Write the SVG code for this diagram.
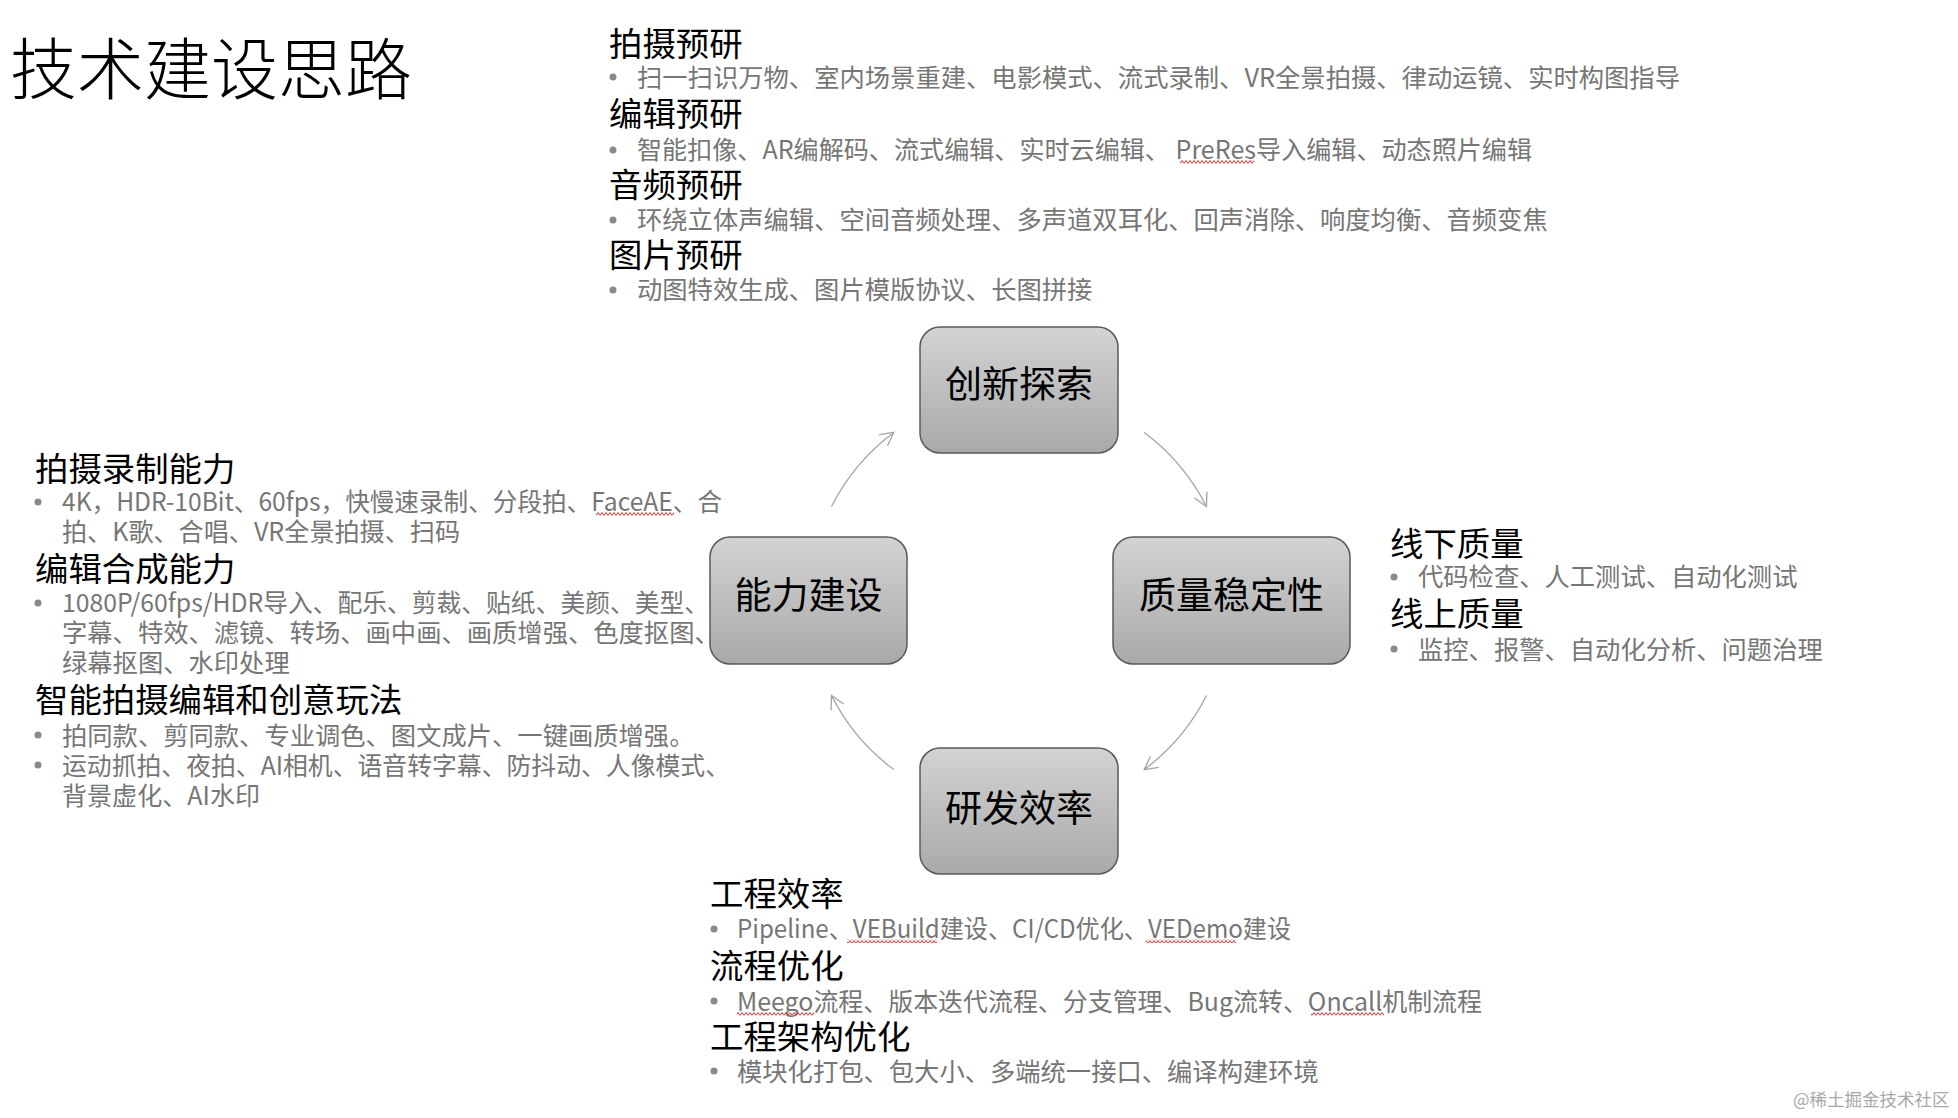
<svg xmlns="http://www.w3.org/2000/svg" width="1958" height="1118" viewBox="0 0 1958 1118">
<style>
text { font-family: "Noto Sans CJK SC", "Noto Sans", sans-serif; }
.title { font-size: 67px; font-weight: 300; fill: #000; }
.h { font-size: 33.4px; fill: #000; }
.b { font-size: 25.3px; fill: #767676; }
.dot { fill: #8a8a8a; }
.node rect { fill: url(#nodeGrad); stroke: #595959; stroke-width: 1.5; }
.node text { font-size: 37px; text-anchor: middle; fill: #000; }
.conn path { fill: none; stroke: #a3a3a3; stroke-width: 1.3; marker-end: url(#arr); }
.wave { fill: url(#wavePat); }
.wm { font-size: 17.5px; fill: #a8a8a8; }
</style>
<defs>
<linearGradient id="nodeGrad" x1="0" y1="0" x2="0" y2="1">
<stop offset="0" stop-color="#d3d3d3"/>
<stop offset="1" stop-color="#a9a9a9"/>
</linearGradient>
<marker id="arr" markerUnits="userSpaceOnUse" markerWidth="18" markerHeight="18" refX="15" refY="9" orient="auto">
<path d="M2,2 L15,9 L2,16" fill="none" stroke="#a3a3a3" stroke-width="1.3"/>
</marker>
<pattern id="wavePat" patternUnits="userSpaceOnUse" width="4" height="4">
<path d="M0,3.5 L2,0.5 L4,3.5" fill="none" stroke="#e03030" stroke-width="1"/>
</pattern>
</defs>
<rect width="1958" height="1118" fill="#fff"/>

<text class="title" x="10" y="94">技术建设思路</text>

<g id="top-block">
<text class="h" x="609" y="56">拍摄预研</text>
<circle class="dot" cx="613" cy="77" r="3.5"/>
<text class="b" x="637" y="87" textLength="1043" lengthAdjust="spacingAndGlyphs">扫一扫识万物、室内场景重建、电影模式、流式录制、VR全景拍摄、律动运镜、实时构图指导</text>
<text class="h" x="609" y="126">编辑预研</text>
<circle class="dot" cx="613" cy="150" r="3.5"/>
<text class="b" x="637" y="159" textLength="895" lengthAdjust="spacingAndGlyphs">智能扣像、AR编解码、流式编辑、实时云编辑、 PreRes导入编辑、动态照片编辑</text>
<rect class="wave" x="1180" y="160" width="74" height="4"/>
<text class="h" x="609" y="197">音频预研</text>
<circle class="dot" cx="613" cy="220" r="3.5"/>
<text class="b" x="637" y="229">环绕立体声编辑、空间音频处理、多声道双耳化、回声消除、响度均衡、音频变焦</text>
<text class="h" x="609" y="267">图片预研</text>
<circle class="dot" cx="613" cy="290" r="3.5"/>
<text class="b" x="637" y="299">动图特效生成、图片模版协议、长图拼接</text>
</g>

<g id="left-block">
<text class="h" x="35" y="481">拍摄录制能力</text>
<circle class="dot" cx="38" cy="502" r="3.5"/>
<text class="b" x="62" y="511" textLength="660" lengthAdjust="spacingAndGlyphs">4K，HDR-10Bit、60fps，快慢速录制、分段拍、FaceAE、合</text>
<rect class="wave" x="596" y="512" width="78" height="4"/>
<text class="b" x="62" y="541" textLength="398" lengthAdjust="spacingAndGlyphs">拍、K歌、合唱、VR全景拍摄、扫码</text>
<text class="h" x="35" y="581">编辑合成能力</text>
<circle class="dot" cx="38" cy="603" r="3.5"/>
<text class="b" x="62" y="612" textLength="647" lengthAdjust="spacingAndGlyphs">1080P/60fps/HDR导入、配乐、剪裁、贴纸、美颜、美型、</text>
<text class="b" x="62" y="642">字幕、特效、滤镜、转场、画中画、画质增强、色度抠图、</text>
<text class="b" x="62" y="672">绿幕抠图、水印处理</text>
<text class="h" x="35" y="712">智能拍摄编辑和创意玩法</text>
<circle class="dot" cx="38" cy="735" r="3.5"/>
<text class="b" x="62" y="745">拍同款、剪同款、专业调色、图文成片、一键画质增强。</text>
<circle class="dot" cx="38" cy="765" r="3.5"/>
<text class="b" x="62" y="775" textLength="668" lengthAdjust="spacingAndGlyphs">运动抓拍、夜拍、AI相机、语音转字幕、防抖动、人像模式、</text>
<text class="b" x="62" y="805" textLength="198" lengthAdjust="spacingAndGlyphs">背景虚化、AI水印</text>
</g>

<g id="right-block">
<text class="h" x="1390" y="556">线下质量</text>
<circle class="dot" cx="1394" cy="577" r="3.5"/>
<text class="b" x="1418" y="586">代码检查、人工测试、自动化测试</text>
<text class="h" x="1390" y="626">线上质量</text>
<circle class="dot" cx="1394" cy="649" r="3.5"/>
<text class="b" x="1418" y="659">监控、报警、自动化分析、问题治理</text>
</g>

<g id="bottom-block">
<text class="h" x="710" y="906">工程效率</text>
<circle class="dot" cx="714" cy="929" r="3.5"/>
<text class="b" x="737" y="938" textLength="554" lengthAdjust="spacingAndGlyphs">Pipeline、VEBuild建设、CI/CD优化、VEDemo建设</text>
<rect class="wave" x="847" y="939" width="90" height="4"/>
<rect class="wave" x="1146" y="939" width="90" height="4"/>
<text class="h" x="710" y="978">流程优化</text>
<circle class="dot" cx="714" cy="1001" r="3.5"/>
<text class="b" x="737" y="1011" textLength="745" lengthAdjust="spacingAndGlyphs">Meego流程、版本迭代流程、分支管理、Bug流转、Oncall机制流程</text>
<rect class="wave" x="737" y="1012" width="77" height="4"/>
<rect class="wave" x="1311" y="1012" width="73" height="4"/>
<text class="h" x="710" y="1049">工程架构优化</text>
<circle class="dot" cx="714" cy="1071" r="3.5"/>
<text class="b" x="737" y="1081">模块化打包、包大小、多端统一接口、编译构建环境</text>
</g>

<g id="connectors" class="conn">
<path d="M831.5,506.5 A210,210 0 0 1 893.8,432.4"/>
<path d="M1144.2,432.4 A210,210 0 0 1 1206.5,506.5"/>
<path d="M1206.5,695.5 A210,210 0 0 1 1144.2,769.6"/>
<path d="M893.8,769.6 A210,210 0 0 1 831.5,695.5"/>
</g>

<g id="node-innovation" class="node">
<rect x="920" y="327" width="198" height="126" rx="20"/>
<text x="1019" y="398">创新探索</text>
</g>
<g id="node-capability" class="node">
<rect x="710" y="537" width="197" height="127" rx="20"/>
<text x="808.5" y="609">能力建设</text>
</g>
<g id="node-quality" class="node">
<rect x="1113" y="537" width="237" height="127" rx="20"/>
<text x="1231.5" y="609">质量稳定性</text>
</g>
<g id="node-efficiency" class="node">
<rect x="920" y="748" width="198" height="126" rx="20"/>
<text x="1019" y="822">研发效率</text>
</g>

<text class="wm" x="1793" y="1106">@稀土掘金技术社区</text>
</svg>
